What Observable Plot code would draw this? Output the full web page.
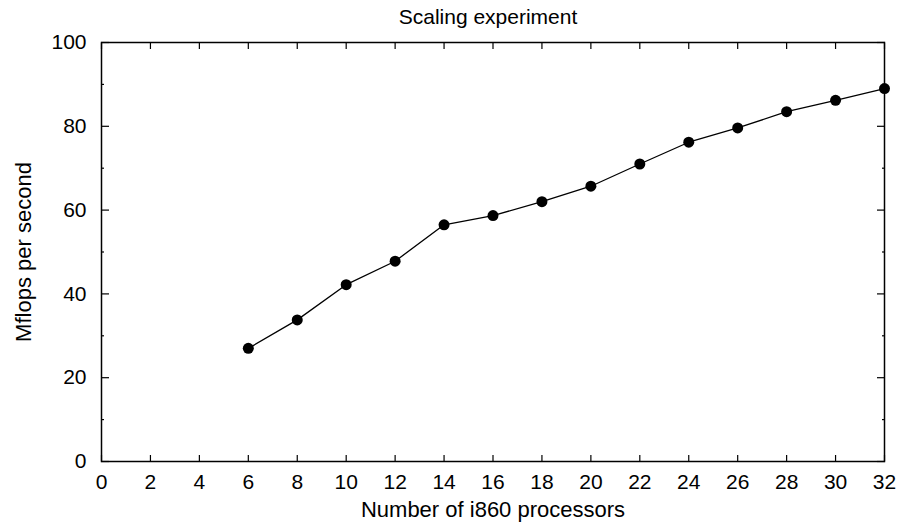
<!DOCTYPE html>
<html>
<head>
<meta charset="utf-8">
<script src="https://cdn.jsdelivr.net/npm/d3@7"></script>
<script src="https://cdn.jsdelivr.net/npm/@observablehq/plot@0.6"></script>
<style>
  html, body { margin: 0; padding: 0; background: #fff; }
  #chart { width: 900px; height: 523px; }
</style>
</head>
<body>
<div id="chart"></div>
<script>
const title = "Scaling experiment";
const xLabel = "Number of i860 processors";
const yLabel = "Mflops per second";
const processors = [6, 8, 10, 12, 14, 16, 18, 20, 22, 24, 26, 28, 30, 32];
const mflops = [27.0, 33.8, 42.2, 47.8, 56.5, 58.7, 62.0, 65.7, 71.0, 76.2, 79.6, 83.5, 86.2, 89.0];
const xTicks = [0, 2, 4, 6, 8, 10, 12, 14, 16, 18, 20, 22, 24, 26, 28, 30, 32];
const yTicks = [0, 20, 40, 60, 80, 100];
const yMinorTicks = [10, 30, 50, 70, 90];

const data = processors.map((p, i) => ({p, m: mflops[i]}));
const font = "'Liberation Sans', Arial, Helvetica, sans-serif";
const blank = () => "";

const chart = Plot.plot({
  width: 900,
  height: 523,
  marginLeft: 101,
  marginRight: 16,
  marginTop: 42,
  marginBottom: 62,
  style: {fontFamily: font, fontSize: "21px", color: "black", background: "white"},
  x: {domain: [0, 32]},
  y: {domain: [0, 100]},
  marks: [
    // inward ticks on all four sides
    Plot.axisX(xTicks, {anchor: "bottom", tickSize: -6, tickFormat: blank, label: null, strokeWidth: 1.2}),
    Plot.axisX(xTicks, {anchor: "top", tickSize: -6, tickFormat: blank, label: null, strokeWidth: 1.2}),
    Plot.axisY(yTicks, {anchor: "left", tickSize: -8, tickFormat: blank, label: null, strokeWidth: 1.2}),
    Plot.axisY(yMinorTicks, {anchor: "left", tickSize: -3, tickFormat: blank, label: null, strokeWidth: 1.2}),
    Plot.axisY(yTicks, {anchor: "right", tickSize: -8, tickFormat: blank, label: null, strokeWidth: 1.2}),
    Plot.axisY(yMinorTicks, {anchor: "right", tickSize: -3, tickFormat: blank, label: null, strokeWidth: 1.2}),
    // tick labels
    Plot.axisX(xTicks, {anchor: "bottom", tickSize: 0, tickPadding: 13, label: null, fontSize: 21, tickFormat: d => String(d)}),
    Plot.axisY(yTicks, {anchor: "left", tickSize: 0, tickPadding: 15, label: null, fontSize: 21, tickFormat: d => String(d)}),
    Plot.frame({stroke: "black", strokeWidth: 1.5}),
    Plot.line(data, {x: "p", y: "m", stroke: "black", strokeWidth: 1.3}),
    Plot.dot(data, {x: "p", y: "m", r: 5.5, fill: "black", stroke: "none"}),
    // title and axis labels
    Plot.text([title], {text: d => d, frameAnchor: "top", textAnchor: "middle", lineAnchor: "bottom", dy: -19, dx: -5, fontSize: 21}),
    Plot.text([xLabel], {text: d => d, frameAnchor: "bottom", textAnchor: "middle", lineAnchor: "bottom", dy: 55.5, fontSize: 22}),
    Plot.text([yLabel], {text: d => d, frameAnchor: "left", textAnchor: "middle", lineAnchor: "bottom", rotate: -90, dx: -70.5, fontSize: 22})
  ]
});
document.getElementById("chart").appendChild(chart);
</script>
</body>
</html>
